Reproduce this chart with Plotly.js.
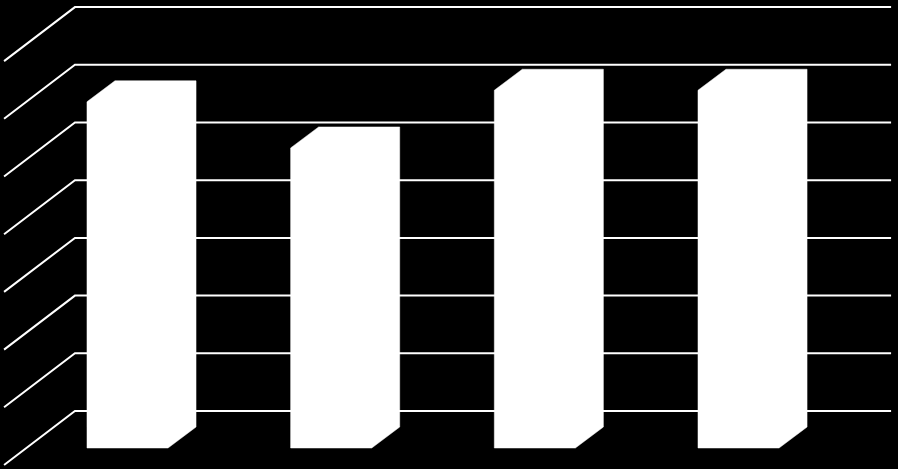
<!DOCTYPE html>
<html>
<head>
<meta charset="utf-8">
<script src="https://cdn.plot.ly/plotly-3.0.1.min.js"></script>
<style>
  html, body { margin: 0; padding: 0; background: #000; }
  #chart { width: 898px; height: 469px; }
</style>
</head>
<body>
<div id="chart"></div>
<script>
// ---- data ----
var categories = [1, 2, 3, 4];
var values = [6.0, 5.2, 6.2, 6.2];
var gridValues = [0, 1, 2, 3, 4, 5, 6, 7];

// ---- 3D oblique geometry (in axis units) ----
var halfW = 0.199;      // half width of bar front face
var barDx = 0.1375;     // bar depth, x
var barDy = 0.364;      // bar depth, y
var frontBase = -0.641; // floor level at bar front face
var wallFrontX = 0.394, wallBackX = 0.742, rightX = 4.749;
var wallDy = 0.936;

var traces = [];

// gridlines on back wall + side wall diagonals
var gx = [], gy = [];
gridValues.forEach(function (g) {
  gx.push(wallFrontX, wallBackX, rightX, null);
  gy.push(g - wallDy, g, g, null);
});
traces.push({
  type: 'scatter', mode: 'lines', x: gx, y: gy,
  line: { color: '#ffffff', width: 2 }, hoverinfo: 'skip', showlegend: false
});

// 3D bars as filled polygons
categories.forEach(function (c, i) {
  var v = values[i];
  var xs = [c - halfW, c - halfW, c - halfW + barDx, c + halfW + barDx, c + halfW + barDx, c + halfW, c - halfW];
  var ys = [frontBase, frontBase + v, frontBase + v + barDy, frontBase + v + barDy, frontBase + barDy, frontBase, frontBase];
  traces.push({
    type: 'scatter', mode: 'lines', x: xs, y: ys, fill: 'toself',
    fillcolor: '#ffffff', line: { color: '#ffffff', width: 0.5 },
    hoverinfo: 'skip', showlegend: false
  });
});

var layout = {
  width: 898, height: 469,
  margin: { l: 0, r: 0, t: 0, b: 0, pad: 0 },
  paper_bgcolor: '#000000', plot_bgcolor: '#000000',
  xaxis: { range: [0.374, 4.783], visible: false, fixedrange: true },
  yaxis: { range: [-1.005, 7.123], visible: false, fixedrange: true },
  showlegend: false
};

Plotly.newPlot('chart', traces, layout, { staticPlot: true, displayModeBar: false });
</script>
</body>
</html>
